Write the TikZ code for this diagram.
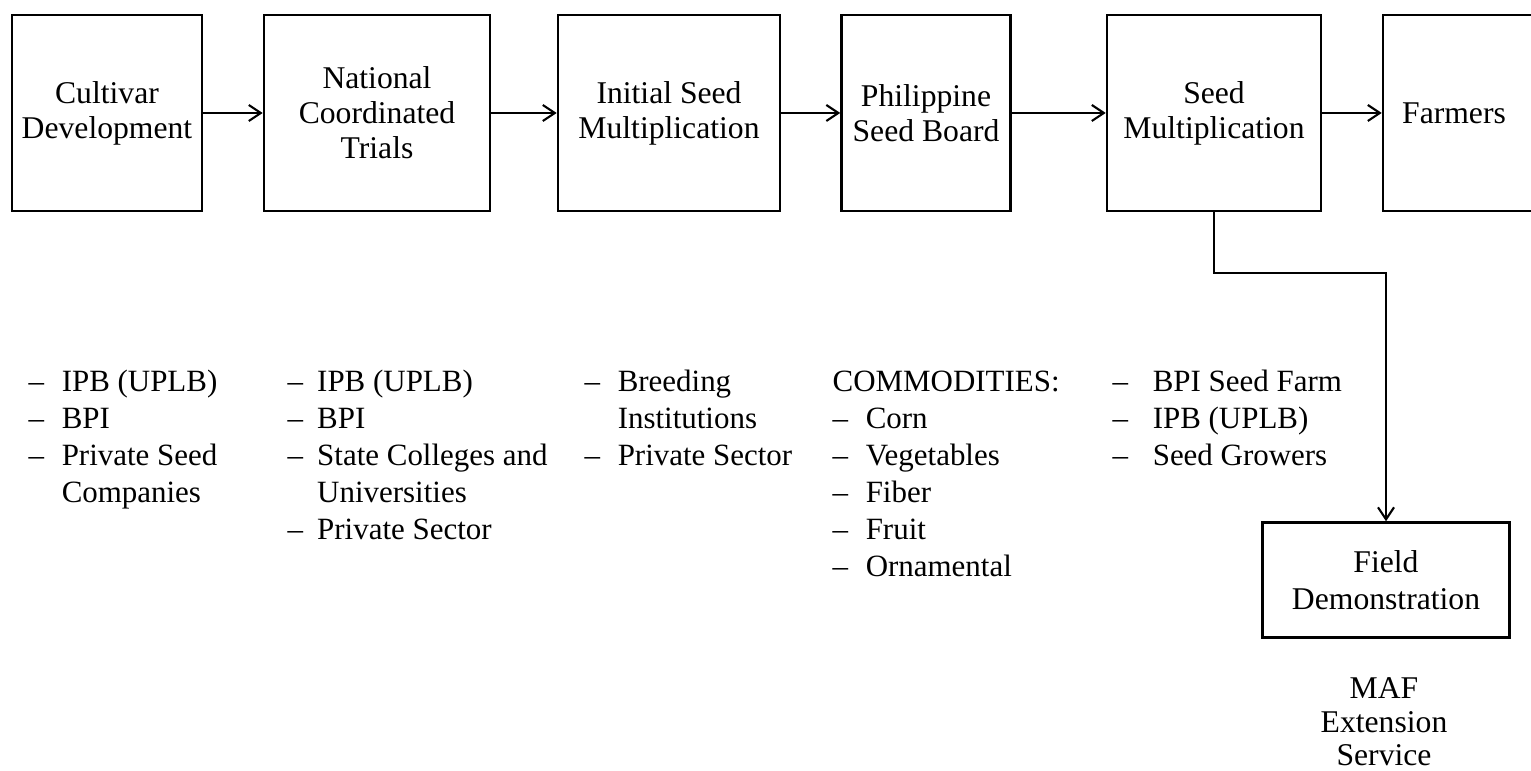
\documentclass[tikz,border=0pt]{standalone}
\usepackage{fontspec}
\setmainfont{Liberation Serif}
\usetikzlibrary{arrows.meta,positioning}

\tikzset{
  stage/.style={draw, line width=0.7pt, minimum height=1.96cm, align=center, inner sep=2pt, font=\fontsize{9pt}{10pt}\selectfont},
  orglist/.style={anchor=north west, inner sep=0pt, font=\fontsize{8.8pt}{10.5pt}\selectfont},
  flow/.style={line width=0.6pt, -{Straight Barb[length=1.2mm,width=1.6mm]}}
}

\begin{document}
\begin{tikzpicture}[x=0.01cm, y=-0.01cm]
  \useasboundingbox (0,0) rectangle (1531,771);

  % stages of the seed programme
  \node[stage, minimum width=1.9cm] (cultivar) at (107,113) {Cultivar\\Development};
  \node[stage, minimum width=2.26cm] (nct) at (377,113) {National\\Coordinated\\Trials};
  \node[stage, minimum width=2.22cm] (initmult) at (669,113) {Initial Seed\\Multiplication};
  \node[stage, minimum width=1.69cm] (psb) at (926,113) {Philippine\\Seed Board};
  \node[stage, minimum width=2.14cm] (seedmult) at (1214,113) {Seed\\Multiplication};
  \node[stage, minimum width=1.9cm] (farmers) at (1478,113) {\hspace*{-0.48cm}Farmers};
  \node[stage, minimum width=2.47cm, minimum height=1.15cm, font=\fontsize{9pt}{10.5pt}\selectfont] (fielddemo) at (1386,580) {Field\\Demonstration};
  \node[font=\fontsize{9pt}{9.5pt}\selectfont, align=center] (mafext) at (1384,722) {MAF\\Extension\\Service};

  \draw[flow] (cultivar) -- (nct);
  \draw[flow] (nct) -- (initmult);
  \draw[flow] (initmult) -- (psb);
  \draw[flow] (psb) -- (seedmult);
  \draw[flow] (seedmult) -- (farmers);
  \draw[flow] (seedmult.south) -- ++(0,61) -| (fielddemo.north);

  % who does what
  \node[orglist] (cultorgs) at (28,365) {\begin{tabular}{@{}l@{\hspace{5pt}}l@{}}
    -- & IPB (UPLB)\\
    -- & BPI\\
    -- & Private Seed\\
       & Companies
  \end{tabular}};
  \node[orglist] (nctorgs) at (287,365) {\begin{tabular}{@{}l@{\hspace{4pt}}l@{}}
    -- & IPB (UPLB)\\
    -- & BPI\\
    -- & State Colleges and\\
       & Universities\\
    -- & Private Sector
  \end{tabular}};
  \node[orglist] (initorgs) at (584,365) {\begin{tabular}{@{}l@{\hspace{5pt}}l@{}}
    -- & Breeding\\
       & Institutions\\
    -- & Private Sector
  \end{tabular}};
  \node[orglist] (commod) at (832,365) {\begin{tabular}{@{}l@{\hspace{5pt}}l@{}}
    \multicolumn{2}{@{}l@{}}{COMMODITIES:}\\
    -- & Corn\\
    -- & Vegetables\\
    -- & Fiber\\
    -- & Fruit\\
    -- & Ornamental
  \end{tabular}};
  \node[orglist] (multorgs) at (1112,365) {\begin{tabular}{@{}l@{\hspace{7pt}}l@{}}
    -- & BPI Seed Farm\\
    -- & IPB (UPLB)\\
    -- & Seed Growers
  \end{tabular}};
\end{tikzpicture}
\end{document}
